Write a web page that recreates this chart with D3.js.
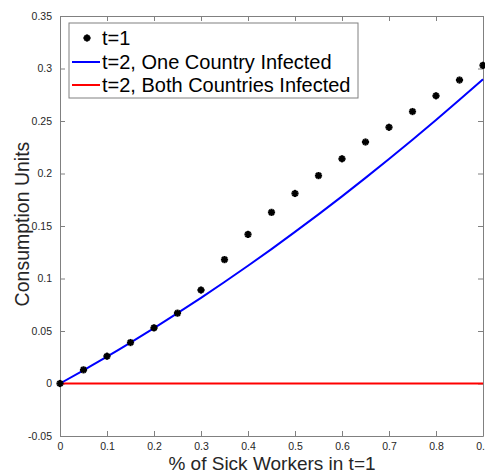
<!DOCTYPE html>
<html>
<head>
<meta charset="utf-8">
<script src="https://cdn.jsdelivr.net/npm/d3@7"></script>
<style>
  body { margin: 0; background: #fff; }
  svg text { font-family: Helvetica, Arial, "Liberation Sans", sans-serif; }
</style>
</head>
<body>
<svg id="chart" width="485" height="475"></svg>
<script>
// x grid, share of sick workers in t=1
var xVals = [0, 0.05, 0.1, 0.15, 0.2, 0.25, 0.3, 0.35, 0.4, 0.45, 0.5, 0.55, 0.6, 0.65, 0.7, 0.75, 0.8, 0.85, 0.9];
// t=1 (stars)
var t1Vals = [0, 0.013, 0.026, 0.039, 0.053, 0.067, 0.089, 0.118, 0.142, 0.163, 0.181, 0.198, 0.214, 0.230, 0.244, 0.259, 0.274, 0.289, 0.303];
// t=2, one country infected (blue)
var oneVals = [0, 0.0126, 0.0255, 0.0389, 0.0527, 0.067, 0.0816, 0.0967, 0.1121, 0.128, 0.1444, 0.1611, 0.1782, 0.1958, 0.2138, 0.2322, 0.251, 0.2702, 0.2898];
// t=2, both countries infected (red)
var bothVals = [0, 0, 0, 0, 0, 0, 0, 0, 0, 0, 0, 0, 0, 0, 0, 0, 0, 0, 0];

var xTicks = [0, 0.1, 0.2, 0.3, 0.4, 0.5, 0.6, 0.7, 0.8, 0.9];
var yTicks = [-0.05, 0, 0.05, 0.1, 0.15, 0.2, 0.25, 0.3, 0.35];
var legendNames = ["t=1", "t=2, One Country Infected", "t=2, Both Countries Infected"];

(function() {
  var svg = d3.select("#chart");
  var pLeft = 60, pRight = 483, pTop = 16, pBottom = 436;
  var axisColor = "#808080";

  var x = d3.scaleLinear().domain([0, 0.9]).range([pLeft, pRight]);
  var y = d3.scaleLinear().domain([-0.05, 0.35]).range([pBottom, pTop]);

  function fmt(v) {
    return String(+v.toFixed(2));
  }

  // axes (box with inward ticks, like matlab)
  svg.append("g")
      .attr("transform", "translate(0," + pBottom + ")")
      .call(d3.axisBottom(x).tickValues(xTicks).tickSizeInner(-5).tickSizeOuter(0).tickPadding(7).tickFormat(fmt));
  svg.append("g")
      .attr("transform", "translate(0," + pTop + ")")
      .call(d3.axisTop(x).tickValues(xTicks).tickSizeInner(-5).tickSizeOuter(0).tickFormat(""));
  svg.append("g")
      .attr("transform", "translate(" + pLeft + ",0)")
      .call(d3.axisLeft(y).tickValues(yTicks).tickSizeInner(-5).tickSizeOuter(0).tickPadding(8).tickFormat(fmt));
  svg.append("g")
      .attr("transform", "translate(" + pRight + ",0)")
      .call(d3.axisRight(y).tickValues(yTicks).tickSizeInner(-5).tickSizeOuter(0).tickFormat(""));

  svg.selectAll(".domain, .tick line").attr("stroke", axisColor);
  svg.selectAll(".tick text").attr("fill", "#262626").style("font-size", "10.5px");

  var line = d3.line()
      .x(function(d, i) { return x(xVals[i]); })
      .y(function(d) { return y(d); });

  // red line
  svg.append("path")
      .datum(bothVals)
      .attr("fill", "none")
      .attr("stroke", "#ff0000")
      .attr("stroke-width", 2)
      .attr("d", line);

  // blue curve
  svg.append("path")
      .datum(oneVals)
      .attr("fill", "none")
      .attr("stroke", "#0000ff")
      .attr("stroke-width", 2)
      .attr("d", d3.line().curve(d3.curveMonotoneX)
        .x(function(d, i) { return x(xVals[i]); })
        .y(function(d) { return y(d); }));

  // asterisk marker
  function star(g, cx, cy) {
    var r = 3.6;
    for (var k = 0; k < 4; k++) {
      var a = k * Math.PI / 4;
      g.append("line")
        .attr("x1", cx - r * Math.cos(a)).attr("y1", cy - r * Math.sin(a))
        .attr("x2", cx + r * Math.cos(a)).attr("y2", cy + r * Math.sin(a))
        .attr("stroke", "#000").attr("stroke-width", 2.2);
    }
    g.append("circle").attr("cx", cx).attr("cy", cy).attr("r", 2.3).attr("fill", "#000");
  }

  var dots = svg.append("g");
  t1Vals.forEach(function(v, i) {
    star(dots, x(xVals[i]), y(v));
  });

  // legend
  var lg = svg.append("g");
  lg.append("rect")
      .attr("x", 69).attr("y", 23)
      .attr("width", 289).attr("height", 75)
      .attr("fill", "#fff")
      .attr("stroke", axisColor);
  var rowY = [38, 62, 85];
  star(lg, 87, rowY[0]);
  lg.append("line").attr("x1", 72).attr("x2", 100).attr("y1", rowY[1]).attr("y2", rowY[1])
      .attr("stroke", "#0000ff").attr("stroke-width", 2);
  lg.append("line").attr("x1", 72).attr("x2", 100).attr("y1", rowY[2]).attr("y2", rowY[2])
      .attr("stroke", "#ff0000").attr("stroke-width", 2);
  legendNames.forEach(function(name, i) {
    lg.append("text")
      .attr("x", 102).attr("y", rowY[i] + 7)
      .style("font-size", "20px")
      .attr("fill", "#000")
      .text(name);
  });

  // axis labels
  svg.append("text")
      .attr("x", 272).attr("y", 470)
      .attr("text-anchor", "middle")
      .style("font-size", "19px")
      .attr("fill", "#262626")
      .text("% of Sick Workers in t=1");

  svg.append("text")
      .attr("transform", "translate(29,224) rotate(-90)")
      .attr("text-anchor", "middle")
      .style("font-size", "19.5px")
      .attr("fill", "#262626")
      .text("Consumption Units");
})();
</script>
</body>
</html>
